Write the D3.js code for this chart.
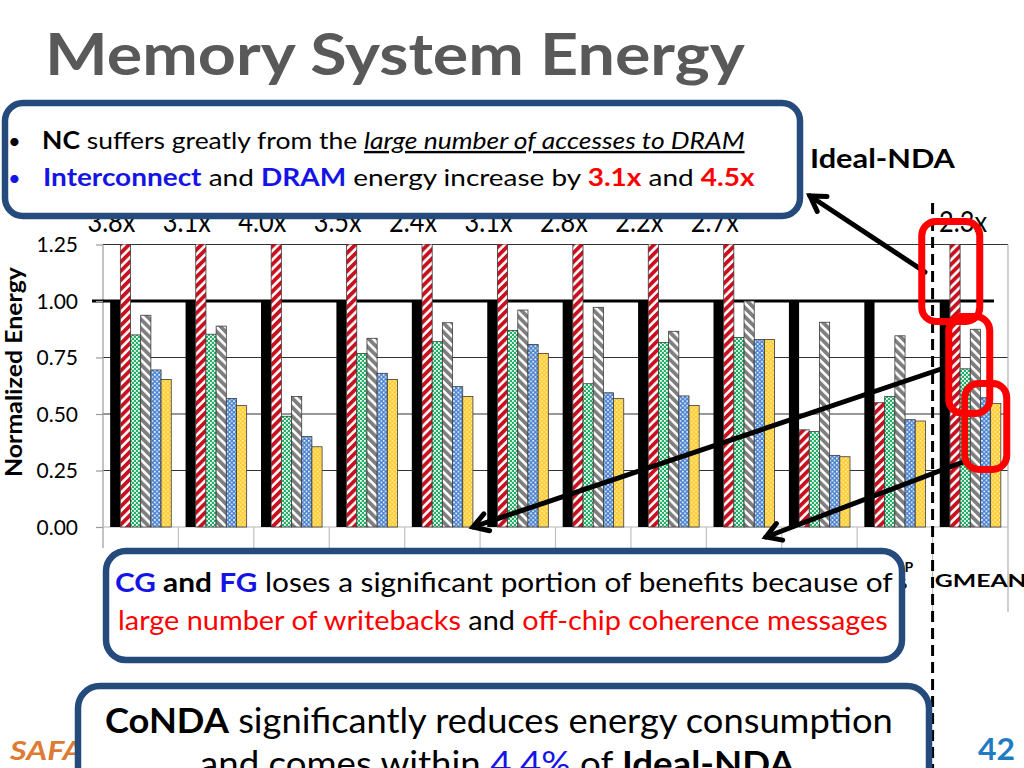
<!DOCTYPE html>
<html><head><meta charset="utf-8">
<script src="https://cdn.jsdelivr.net/npm/d3@7"></script>
<style>html,body{margin:0;padding:0;background:#fff;} svg{display:block;} text{white-space:pre;}</style>
</head><body>
<svg id="c" width="1024" height="768"></svg>
<script>
// ---------------- data ----------------
const categories = ["CC-arXiv","CC-Gnutella","CC-Enron","Radii-arXiv","Radii-Gnutella","Radii-Enron","PR-arXiv","PR-Gnutella","PR-Enron","HTAP-128","HTAP-256","GMEAN"];
const seriesNames = ["CPU-only","NC","CG","FG","CoNDA","Ideal-NDA"];
const cpuOnly  = [1,1,1,1,1,1,1,1,1,1,1,1];
const nc       = [3.8,3.1,4.0,3.5,2.4,3.1,2.8,2.2,2.7,0.43,0.55,2.3];
const cg       = [0.85,0.853,0.49,0.768,0.82,0.87,0.634,0.817,0.839,0.422,0.577,0.70];
const fg       = [0.937,0.889,0.577,0.835,0.904,0.96,0.972,0.866,1.0,0.906,0.846,0.875];
const conda    = [0.695,0.569,0.40,0.68,0.621,0.808,0.594,0.58,0.83,0.317,0.475,0.572];
const idealNda = [0.653,0.537,0.355,0.653,0.577,0.768,0.568,0.538,0.83,0.311,0.469,0.547];
const ncLabels = ["3.8x","3.1x","4.0x","3.5x","2.4x","3.1x","2.8x","2.2x","2.7x","","","2.3x"];
const yTicks   = [0,0.25,0.5,0.75,1.0,1.25];
const seriesValues = [cpuOnly, nc, cg, fg, conda, idealNda];

// ---------------- setup ----------------
const svg = d3.select("#c");
const defs = svg.append("defs");
const F = "Lato, 'Open Sans', sans-serif";

function stripePattern(id, color, angle) {
  const p = defs.append("pattern").attr("id", id).attr("patternUnits", "userSpaceOnUse")
    .attr("width", 6.4).attr("height", 6.4).attr("patternTransform", `rotate(${angle})`);
  p.append("rect").attr("width", 6.4).attr("height", 6.4).attr("fill", "#fff");
  p.append("rect").attr("width", 3.8).attr("height", 6.4).attr("fill", color);
}
function dotPattern(id, bg, fgc, size, dot) {
  const p = defs.append("pattern").attr("id", id).attr("patternUnits", "userSpaceOnUse")
    .attr("width", size).attr("height", size);
  p.append("rect").attr("width", size).attr("height", size).attr("fill", bg);
  p.append("rect").attr("x", 0).attr("y", 0).attr("width", dot).attr("height", dot).attr("fill", fgc);
  p.append("rect").attr("x", size / 2).attr("y", size / 2).attr("width", dot).attr("height", dot).attr("fill", fgc);
}
stripePattern("pNC", "#C8101E", 45);
stripePattern("pFG", "#7F7F7F", -45);
dotPattern("pCG", "#22B066", "#ffffff", 4, 1.8);
dotPattern("pCoNDA", "#4A83D0", "#ffffff", 4.4, 1.6);
dotPattern("pIdeal", "#FFCC33", "#FFF1B0", 4.4, 1.6);
const fills = {"CPU-only": "#000", "NC": "url(#pNC)", "CG": "url(#pCG)", "FG": "url(#pFG)", "CoNDA": "url(#pCoNDA)", "Ideal-NDA": "url(#pIdeal)"};

const plotL = 103, plotR = 1008, plotB = 527, plotT = 244.5;
const x0 = d3.scaleBand().domain(categories).range([plotL, plotR]).paddingInner(0.19).paddingOuter(0.095);
const x1 = d3.scaleBand().domain(seriesNames).range([0, x0.bandwidth()]).padding(0);
const y = d3.scaleLinear().domain([0, 1.25]).range([plotB, plotT]);

defs.append("clipPath").attr("id", "plotClip").append("rect")
  .attr("x", plotL).attr("y", plotT).attr("width", plotR - plotL).attr("height", plotB - plotT + 1);

// rich text helper: draws segments at left x, baseline y, stretched to width
function rich(parent, x, yb, segs, size, width, opts = {}) {
  const g = parent.append("g").attr("transform", `translate(${x},${yb})`);
  const t = g.append("text").attr("font-size", size).attr("font-family", opts.family || F)
    .attr("fill", opts.fill || "#000");
  if (opts.weight) t.attr("font-weight", opts.weight);
  if (opts.style) t.attr("font-style", opts.style);
  segs.forEach(s => {
    const ts = t.append("tspan").text(s.t);
    if (s.fill) ts.attr("fill", s.fill);
    if (s.bold) ts.attr("font-weight", "bold");
    if (s.italic) ts.attr("font-style", "italic");
    if (s.underline) ts.attr("text-decoration", "underline");
  });
  if (width) {
    const w = t.node().getComputedTextLength();
    g.attr("transform", `translate(${x},${yb}) scale(${width / w},1)`);
  }
  return g;
}

// ---------------- title ----------------
rich(svg, 45, 75, [{t: "Memory System Energy"}], 58, 700, {weight: "bold", fill: "#595959"});

// ---------------- grid & axes ----------------
const grid = svg.append("g");
yTicks.filter(v => v !== 0 && v !== 1).forEach(v => {
  grid.append("line").attr("x1", plotL).attr("x2", plotR).attr("y1", y(v)).attr("y2", y(v))
    .attr("stroke", "#333").attr("stroke-width", 1.2);
});
grid.append("line").attr("x1", plotL).attr("x2", plotL).attr("y1", plotT).attr("y2", plotB + 21).attr("stroke", "#9a9a9a").attr("stroke-width", 1.2);
grid.append("line").attr("x1", plotR).attr("x2", plotR).attr("y1", plotT).attr("y2", 612).attr("stroke", "#b0b0b0").attr("stroke-width", 1.2);
grid.append("line").attr("x1", plotL).attr("x2", plotR).attr("y1", plotB).attr("y2", plotB).attr("stroke", "#b5b5b5").attr("stroke-width", 1.2);
categories.forEach((c, i) => {
  if (i === 0) return;
  const xs = x0(c) - x0.step() * x0.paddingInner() / 2;
  grid.append("line").attr("x1", xs).attr("x2", xs).attr("y1", plotB).attr("y2", 612)
    .attr("stroke", "#c0c0c0").attr("stroke-width", 1.2);
});
const yAxis = d3.axisLeft(y).tickValues(yTicks).tickSize(7).tickFormat(d3.format(".2f"));
const ya = svg.append("g").attr("transform", `translate(${plotL},0)`).call(yAxis);
ya.select(".domain").remove();
ya.selectAll(".tick line").attr("stroke", "#9a9a9a").attr("stroke-width", 1.2);
ya.selectAll(".tick text").attr("font-family", F).attr("font-size", 21).attr("fill", "#000")
  .attr("x", -25).attr("dy", "0.35em");
grid.append("line").attr("x1", 92).attr("x2", 994).attr("y1", y(1)).attr("y2", y(1))
  .attr("stroke", "#000").attr("stroke-width", 3);

const yt = svg.append("g");
const ytt = yt.append("text").attr("font-family", F).attr("font-weight", "bold").attr("font-size", 22).text("Normalized Energy");
yt.attr("transform", `translate(22,477) rotate(-90) scale(${210 / ytt.node().getComputedTextLength()},1)`);

// ---------------- bars ----------------
const barsG = svg.append("g").attr("clip-path", "url(#plotClip)");
categories.forEach((c, i) => {
  seriesNames.forEach((s, j) => {
    const v = seriesValues[j][i];
    barsG.append("rect")
      .attr("x", x0(c) + x1(s)).attr("width", x1.bandwidth())
      .attr("y", y(v)).attr("height", y(0) - y(v))
      .attr("fill", fills[s])
      .attr("stroke", s === "CPU-only" ? "none" : "#3a3a3a").attr("stroke-width", 0.8);
  });
});

// NC labels above the clipped bars
categories.forEach((c, i) => {
  if (!ncLabels[i]) return;
  const cx = x0(c) + x1("NC") + x1.bandwidth() / 2 + (c === "GMEAN" ? 8 : -14);
  const g = svg.append("g");
  const t = g.append("text").attr("text-anchor", "middle").attr("font-family", F).attr("font-size", 29).text(ncLabels[i]);
  g.attr("transform", `translate(${cx},232) scale(${48 / t.node().getComputedTextLength()},1)`);
});

// category labels (two lines, mostly hidden by the callout)
categories.forEach((c, i) => {
  if (c === "GMEAN") {
    rich(svg, x0(c) - 5, 587, [{t: c}], 17, 92, {weight: "bold"});
  } else {
    const parts = c.split("-");
    const t = svg.append("text").attr("text-anchor", "middle").attr("font-family", F)
      .attr("font-size", 14).attr("font-weight", "bold");
    parts.forEach((p, k) => t.append("tspan").attr("x", x0(c) + x0.bandwidth() / 2).attr("y", 572 + k * 17).text(p));
  }
});

// ---------------- annotations ----------------
const BLUE_BOX = "#254B7D";
const gx = x0("GMEAN") - x0.step() * x0.paddingInner() / 2;
svg.append("line").attr("x1", gx).attr("x2", gx).attr("y1", 203).attr("y2", 768)
  .attr("stroke", "#000").attr("stroke-width", 3).attr("stroke-dasharray", "11,6");

// top callout
svg.append("rect").attr("x", 5).attr("y", 103).attr("width", 795).attr("height", 113).attr("rx", 18)
  .attr("fill", "#fff").attr("stroke", BLUE_BOX).attr("stroke-width", 6.5);
svg.append("text").attr("x", 8).attr("y", 149).attr("font-family", F).attr("font-size", 22).text("•");
rich(svg, 42, 149, [
  {t: "NC", bold: true}, {t: " suffers greatly from the "},
  {t: "large number of accesses to DRAM", italic: true, underline: true}
], 24, 703);
svg.append("text").attr("x", 8).attr("y", 186).attr("font-family", F).attr("font-size", 22).attr("fill", "#1414E6").text("•");
rich(svg, 43, 186, [
  {t: "Interconnect", bold: true, fill: "#1414E6"}, {t: " and "},
  {t: "DRAM", bold: true, fill: "#1414E6"}, {t: " energy increase by "},
  {t: "3.1x", bold: true, fill: "#FF0000"}, {t: " and "},
  {t: "4.5x", bold: true, fill: "#FF0000"}
], 24, 712);

rich(svg, 810, 168, [{t: "Ideal-NDA"}], 26, 145, {weight: "bold"});

// CG / FG box
svg.append("rect").attr("x", 106).attr("y", 551).attr("width", 796).attr("height", 109).attr("rx", 20)
  .attr("fill", "#fff").attr("stroke", BLUE_BOX).attr("stroke-width", 6.5);
rich(svg, 115, 592, [
  {t: "CG", bold: true, fill: "#1414E6"}, {t: " and ", bold: true},
  {t: "FG", bold: true, fill: "#1414E6"}, {t: " loses a significant portion of benefits because of"}
], 26, 778);
rich(svg, 118, 630, [
  {t: "large number of writebacks", fill: "#FF0000"}, {t: " and "},
  {t: "off-chip coherence messages", fill: "#FF0000"}
], 26, 770);

// footer
rich(svg, 10, 760, [{t: "SAFARI"}], 26, 102, {weight: "bold", style: "italic", fill: "#DD7A33"});
rich(svg, 978, 760, [{t: "42"}], 30, 37, {weight: "bold", fill: "#1F7BC2"});

// bottom box
svg.append("rect").attr("x", 78).attr("y", 686).attr("width", 851).attr("height", 140).attr("rx", 22)
  .attr("fill", "#fff").attr("stroke", BLUE_BOX).attr("stroke-width", 6.5);
rich(svg, 105, 733, [
  {t: "CoNDA", bold: true}, {t: " significantly reduces energy consumption"}
], 34, 788);
rich(svg, 200, 776, [
  {t: "and comes within "}, {t: "4.4%", fill: "#1414E6", underline: true}, {t: " of "}, {t: "Ideal-NDA", bold: true}
], 34, 595);

// arrows
function arrow(xa, ya, xb, yb) {
  const g = svg.append("g").attr("stroke", "#000").attr("stroke-width", 5).attr("stroke-linecap", "round").attr("fill", "none");
  g.append("line").attr("x1", xa).attr("y1", ya).attr("x2", xb).attr("y2", yb);
  const ang = Math.atan2(ya - yb, xa - xb), L = 17, a = 0.55;
  g.append("path").attr("d",
    `M${xb + L * Math.cos(ang + a)},${yb + L * Math.sin(ang + a)} L${xb},${yb} L${xb + L * Math.cos(ang - a)},${yb + L * Math.sin(ang - a)}`);
}
const gIdx = x0("GMEAN");
arrow(925, 272, 810, 196);
arrow(947, 367, 473, 527);
arrow(963, 462, 766, 537);

// red highlight boxes (around GMEAN bars)
const redBox = (xa, ya, xb, yb) => svg.append("rect").attr("x", xa).attr("y", ya)
  .attr("width", xb - xa).attr("height", yb - ya).attr("rx", 14)
  .attr("fill", "none").attr("stroke", "#FF0000").attr("stroke-width", 7);
redBox(gIdx - 18, plotT - 23, gIdx + 40, 321.5);
redBox(gIdx + 9, 316.5, gIdx + 50, 413.5);
redBox(gIdx + 25, 383.5, gIdx + 67, 469.5);
</script>
</body></html>
